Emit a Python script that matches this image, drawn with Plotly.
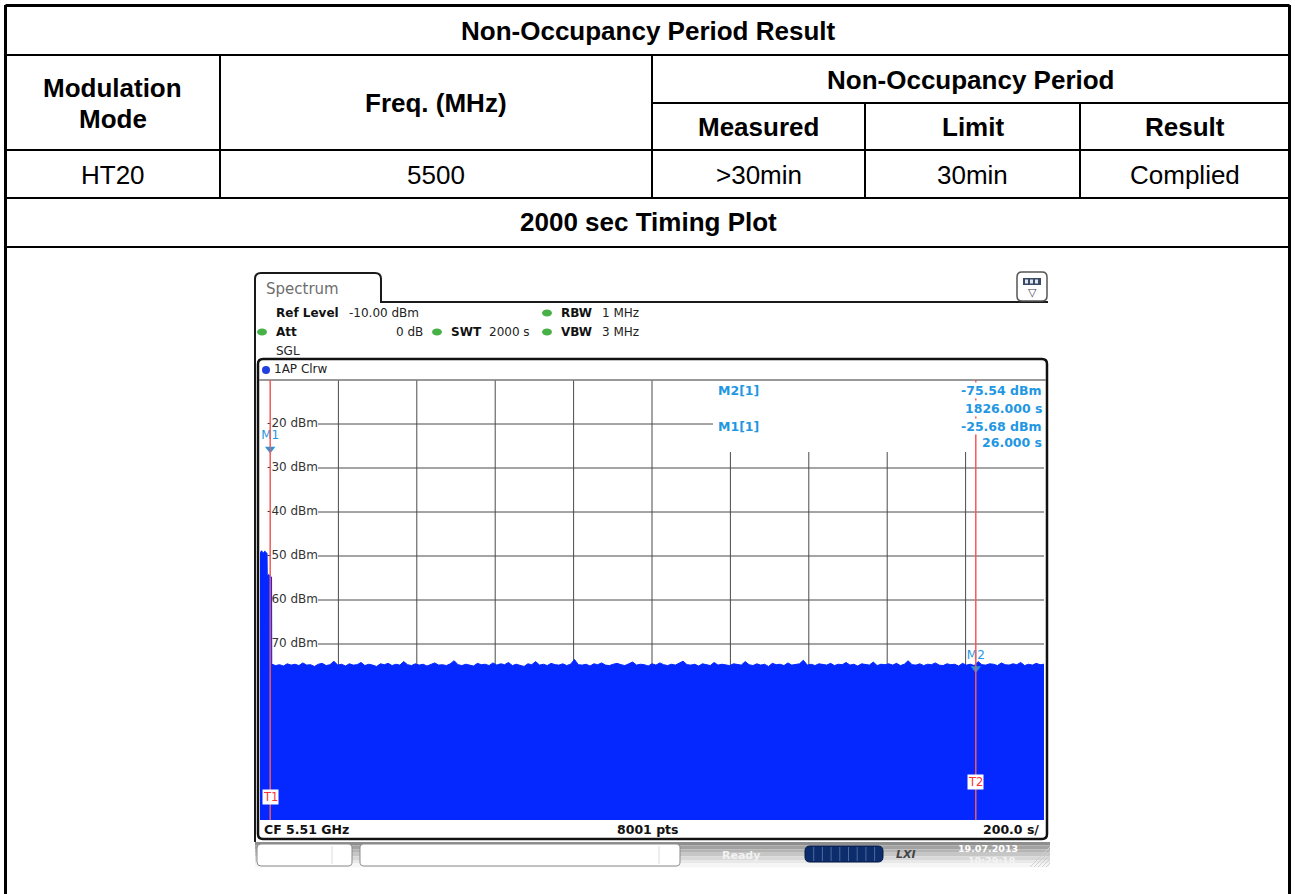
import numpy as np
import plotly.graph_objects as go

W, H = 1295, 894
TAB_FONT = "Liberation Sans, Arial, sans-serif"
RS_FONT = "DejaVu Sans, Verdana, sans-serif"

# ---------------- table content ----------------
table_title = "Non-Occupancy Period Result"
col_headers = ["Modulation", "Mode"]
freq_header = "Freq. (MHz)"
group_header = "Non-Occupancy Period"
sub_headers = ["Measured", "Limit", "Result"]
row_values = ["HT20", "5500", ">30min", "30min", "Complied"]
plot_caption = "2000 sec Timing Plot"

# ---------------- spectrum analyser content ----------------
sweep_time_s = 2000
time_ticks = [200, 400, 600, 800, 1000, 1200, 1400, 1600, 1800]
level_grid = [-20, -30, -40, -50, -60, -70, -80, -90, -100]
level_labels = [-20, -30, -40, -50, -60, -70]
ref_level = -10
bottom_level = -110

burst_time = [0, 4, 8, 12, 16, 18, 18.5, 22, 26, 29.5]
burst_dbm = [-49.3, -48.8, -49.4, -48.9, -49.2, -49.5, -54.6, -54.2, -54.5, -54.8]

noise_dbm = [
    -74.6, -74.9, -74.7, -75.0, -74.5, -74.8, -74.6, -74.9, -74.3, -74.8,
    -74.7, -75.1, -74.6, -74.4, -74.9, -74.7, -73.9, -74.8, -74.6, -75.0,
    -74.5, -74.8, -74.7, -74.2, -74.9, -74.6, -74.8, -75.1, -74.5, -74.7,
    -74.4, -74.9, -74.6, -74.8, -74.0, -74.7, -74.9, -74.5, -74.8, -74.6,
    -75.0, -74.6, -74.3, -74.8, -74.7, -74.9, -74.5, -73.8, -74.7, -74.9,
    -74.6, -74.8, -75.0, -74.4, -74.7, -74.6, -74.9, -74.3, -74.8, -74.5,
    -74.7, -74.2, -74.9, -74.6, -74.8, -75.1, -74.5, -74.7, -74.0, -74.8,
    -74.6, -74.9, -74.4, -74.7, -74.8, -74.5, -74.9, -74.6, -73.5, -74.7,
    -74.8, -74.6, -75.0, -74.5, -74.7, -74.3, -74.8, -74.9, -74.6, -74.4,
    -74.7, -74.9, -74.5, -74.1, -74.8, -74.6, -74.7, -75.0, -74.5, -74.8,
    -74.3, -74.7, -74.9, -74.6, -74.8, -74.4, -73.9, -74.7, -74.8, -74.6,
    -75.0, -74.5, -74.7, -74.9, -74.2, -74.8, -74.6, -74.7, -74.9, -74.5,
    -74.6, -74.8, -74.0, -74.7, -74.9, -74.5, -74.8, -74.6, -75.1, -74.4,
    -74.7, -74.6, -74.9, -74.3, -74.8, -74.7, -74.5, -73.7, -74.8, -74.6,
    -74.9, -74.5, -74.7, -74.8, -74.4, -74.9, -74.6, -74.7, -74.2, -74.8,
    -74.6, -75.0, -74.5, -74.7, -74.8, -74.1, -74.9, -74.6, -74.7, -74.5,
    -74.8, -74.4, -74.9, -74.6, -73.8, -74.7, -74.8, -74.5, -74.9, -74.6,
    -74.7, -74.3, -74.8, -74.9, -74.5, -74.7, -74.6, -75.0, -74.4, -74.8,
    -74.6, -74.9, -74.0, -74.7, -74.8, -74.5, -74.6, -74.9, -74.3, -74.7,
    -74.8, -74.5, -74.7, -74.2, -74.9, -74.6, -74.8, -74.4, -74.7, -74.6,
]
noise_start_s = 30

marker_names = ["M1", "M2"]
marker_time = [26.0, 1826.0]
marker_dbm = [-25.68, -75.54]
marker_info = [("M2[1]", "-75.54 dBm", "1826.000 s"), ("M1[1]", "-25.68 dBm", "26.000 s")]
line_names = ["T1", "T2"]
line_time = [26.0, 1826.0]

header_left = [("<b>Ref Level</b>", "-10.00 dBm"), ("<b>Att</b>", "0 dB")]
header_mid = [("<b>SWT</b>", "2000 s")]
header_right = [("<b>RBW</b>", "1 MHz"), ("<b>VBW</b>", "3 MHz")]
footer = ["CF 5.51 GHz", "8001 pts", "200.0 s/"]

# ---------------- helpers ----------------
def X(p):
    return p / W

def Y(p):
    return 1 - p / H

# pixel -> data helpers for overlays inside the diagram
GX0, GX1, GY0, GY1 = 260, 1044, 380, 820
def TX(p):
    return (p - GX0) / (GX1 - GX0) * sweep_time_s

def LY(p):
    return ref_level - (p - GY0) / (GY1 - GY0) * (ref_level - bottom_level)

shapes, anns = [], []

def line(x0, y0, x1, y1, w=2, c="black", layer="above", dash=None):
    shapes.append(dict(type="line", xref="paper", yref="paper",
                       x0=X(x0), y0=Y(y0), x1=X(x1), y1=Y(y1),
                       line=dict(color=c, width=w, dash=dash), layer=layer))

def rect(x0, y0, x1, y1, fill, lc=None, w=0, layer="below"):
    shapes.append(dict(type="rect", xref="paper", yref="paper",
                       x0=X(x0), y0=Y(y0), x1=X(x1), y1=Y(y1),
                       fillcolor=fill, line=dict(color=lc or fill, width=w), layer=layer))

def P(x, y):
    return f"{X(x):.6f},{Y(y):.6f}"

def rrect(x0, y0, x1, y1, r, lc="#111", w=2, fill=None, layer="above"):
    d = (f"M {P(x0 + r, y0)} L {P(x1 - r, y0)} Q {P(x1, y0)} {P(x1, y0 + r)} "
         f"L {P(x1, y1 - r)} Q {P(x1, y1)} {P(x1 - r, y1)} L {P(x0 + r, y1)} "
         f"Q {P(x0, y1)} {P(x0, y1 - r)} L {P(x0, y0 + r)} Q {P(x0, y0)} {P(x0 + r, y0)} Z")
    shapes.append(dict(type="path", xref="paper", yref="paper", path=d,
                       line=dict(color=lc, width=w), fillcolor=fill or "rgba(0,0,0,0)",
                       layer=layer))

def ann(x, y, text, size, color="black", xa="center", family=TAB_FONT, bg=None, pad=0):
    a = dict(x=X(x), y=Y(y), xref="paper", yref="paper", text=text, showarrow=False,
             xanchor=xa, yanchor="middle", borderpad=pad,
             font=dict(family=family, size=size, color=color))
    if bg:
        a["bgcolor"] = bg
    anns.append(a)

# ---------------- table ----------------
col_x = [5, 220, 652, 865, 1080, 1290]
row_y = [5, 55, 103, 150, 198, 247]
line(5.5, 5.5, 1289.5, 5.5, 3)
line(5.5, 5, 5.5, 900, 3)
line(1289.5, 5, 1289.5, 900, 3)
for yy in [row_y[1], row_y[3], row_y[4], row_y[5]]:
    line(5, yy, 1290, yy, 2)
line(col_x[2], row_y[2], 1290, row_y[2], 2)
line(col_x[1], row_y[1], col_x[1], row_y[4], 2)
line(col_x[2], row_y[1], col_x[2], row_y[4], 2)
line(col_x[3], row_y[2], col_x[3], row_y[4], 2)
line(col_x[4], row_y[2], col_x[4], row_y[4], 2)

centers = [(col_x[i] + col_x[i + 1]) / 2 for i in range(5)]
TS = 26
ann(648, 31, f"<b>{table_title}</b>", TS)
ann(centers[0], 88, f"<b>{col_headers[0]}</b>", TS)
ann(centers[0], 119, f"<b>{col_headers[1]}</b>", TS)
ann(centers[1], 103, f"<b>{freq_header}</b>", TS)
ann((col_x[2] + col_x[5]) / 2, 80, f"<b>{group_header}</b>", TS)
for i, s in enumerate(sub_headers):
    ann(centers[2 + i], 127, f"<b>{s}</b>", TS)
for i, v in enumerate(row_values):
    ann(centers[i], 175, v, TS)
ann(648, 222, f"<b>{plot_caption}</b>", TS)

# ---------------- analyser frame ----------------
DARK = "#1a1a1a"
d = (f"M {P(255, 842)} L {P(255, 279)} Q {P(255, 273)} {P(261, 273)} L {P(375, 273)} "
     f"Q {P(381, 273)} {P(381, 279)} L {P(381, 302)} L {P(1048, 302)}")
shapes.append(dict(type="path", xref="paper", yref="paper", path=d,
                   line=dict(color=DARK, width=2), layer="above"))
ann(265, 289, "Spectrum", 15, "#6e6e6e", "left", RS_FONT)
rrect(1017, 272, 1047, 301, 5, lc="#555", w=1.5, fill="white")
rect(1023, 278, 1041, 285, "#3a4a66", layer="above")
for k in range(3):
    rect(1025 + k * 5, 279.5, 1028 + k * 5, 283.5, "#e0e6f0", layer="above")
ann(1032, 292, "▽", 11, "#445", "center", RS_FONT)

GREEN = "#47b047"
def dot(cx, cy, c=GREEN, rx=5, ry=3.5):
    shapes.append(dict(type="circle", xref="paper", yref="paper",
                       x0=X(cx - rx), x1=X(cx + rx), y0=Y(cy - ry), y1=Y(cy + ry),
                       fillcolor=c, line=dict(color=c, width=0), layer="above"))
HS = 12
ann(275, 313, header_left[0][0], HS, "#111", "left", RS_FONT)
ann(348, 313, header_left[0][1], HS, "#222", "left", RS_FONT)
dot(547, 313)
ann(560, 313, header_right[0][0], HS, "#111", "left", RS_FONT)
ann(601, 313, header_right[0][1], HS, "#222", "left", RS_FONT)
dot(262, 332)
ann(275, 332, header_left[1][0], HS, "#111", "left", RS_FONT)
ann(424, 332, header_left[1][1], HS, "#222", "right", RS_FONT)
dot(437, 332)
ann(450, 332, header_mid[0][0], HS, "#111", "left", RS_FONT)
ann(488, 332, header_mid[0][1], HS, "#222", "left", RS_FONT)
dot(547, 332)
ann(560, 332, header_right[1][0], HS, "#111", "left", RS_FONT)
ann(601, 332, header_right[1][1], HS, "#222", "left", RS_FONT)
ann(275, 351, "SGL", HS, "#222", "left", RS_FONT)

rrect(258, 359, 1047, 839, 5, lc="#111", w=2.5)
line(259, 380, 1046, 380, 1.5, "#777")
dot(266, 370, "#1f3fe0", 4, 4)
ann(273, 369, "1AP Clrw", HS, "#222", "left", RS_FONT)

# grid (subplot shapes, below traces)
GRID = "#4a4a4a"
for t in time_ticks:
    shapes.append(dict(type="line", xref="x", yref="y", x0=t, x1=t, y0=bottom_level, y1=ref_level,
                       line=dict(color=GRID, width=1), layer="below"))
for lv in level_grid:
    shapes.append(dict(type="line", xref="x", yref="y", x0=0, x1=sweep_time_s, y0=lv, y1=lv,
                       line=dict(color=GRID, width=1), layer="below"))
# white backing behind level labels (drawn after grid, same layer)
for lv in level_labels:
    shapes.append(dict(type="rect", xref="x", yref="y", x0=0, x1=TX(318),
                       y0=lv - 1.6, y1=lv + 1.6, fillcolor="white",
                       line=dict(width=0), layer="below"))
# marker info area hides the grid
shapes.append(dict(type="rect", xref="x", yref="y", x0=TX(713), x1=sweep_time_s,
                   y0=LY(452), y1=ref_level, fillcolor="white",
                   line=dict(width=0), layer="below"))

MB = "#1f97e2"
for i, (nm, lv, tm) in enumerate(marker_info):
    yy = 391 + i * 35
    ann(717, yy, f"<b>{nm}</b>", 12.5, MB, "left", RS_FONT, bg="white")
    ann(1043, yy, f"<b>{lv}</b>", 12.5, MB, "right", RS_FONT, bg="white")
    ann(1043, yy + 17, f"<b>{tm}</b>", 12.5, MB, "right", RS_FONT, bg="white")

RED = "#f25a5a"
for t in line_time:
    shapes.append(dict(type="line", xref="x", yref="y", x0=t, x1=t, y0=bottom_level, y1=ref_level,
                       line=dict(color=RED, width=1.5), layer="above"))
for nm, t, yy in zip(line_names, line_time, [797, 782]):
    anns.append(dict(x=t, y=Y(yy), xref="x", yref="paper", text=nm, showarrow=False,
                     xanchor="center", yanchor="middle", bgcolor="white", borderpad=0,
                     font=dict(family=RS_FONT, size=11.5, color="#ff3030")))

FS = 12.5
ann(263, 829, f"<b>{footer[0]}</b>", FS, "#111", "left", RS_FONT)
ann(648, 829, f"<b>{footer[1]}</b>", FS, "#111", "center", RS_FONT)
ann(1040, 829, f"<b>{footer[2]}</b>", FS, "#111", "right", RS_FONT)

bands = ["#8e8e8e", "#a2a2a2", "#b4b4b4", "#c6c6c6", "#d8d8d8", "#e9e9e9", "#f6f6f6"]
for i, c in enumerate(bands):
    rect(255, 842 + i * 3.6, 1050, 845.6 + i * 3.6, c)
rrect(257, 844, 352, 866, 4, lc="#8a8a8a", w=1, fill="white", layer="below")
line(332, 846, 332, 864, 1, "#dddddd", "below")
rrect(360, 844, 680, 866, 4, lc="#8a8a8a", w=1, fill="white", layer="below")
line(659, 846, 659, 864, 1, "#dddddd", "below")
ann(741, 855, "<b>Ready</b>", 11, "#f2f2f2", "center", RS_FONT)
rrect(805, 846, 883, 862, 5, lc="#061a44", w=1, fill="#0c2c6c", layer="below")
for k in range(1, 9):
    line(805 + k * 8.7, 847, 805 + k * 8.7, 861, 1, "#4e6a9c", "below")
ann(906, 854, "<b><i>LXI</i></b>", 11, "#444", "center", RS_FONT)
ann(988, 848, "<b>19.07.2013</b>", 9.5, "#ffffff", "center", RS_FONT)
ann(992, 860, "<b>10:29:18</b>", 9.5, "#f4f4f4", "center", RS_FONT)
for k in range(5):
    line(1030 + k * 4, 867, 1050, 847 + k * 4, 1, "#cfcfcf", "below")

# ---------------- traces ----------------
noise_time = np.linspace(noise_start_s, sweep_time_s, len(noise_dbm))
trace_t = list(burst_time) + list(noise_time)
trace_y = list(burst_dbm) + list(noise_dbm)
BLUE = "#0428ff"

fig = go.Figure()
fig.add_trace(go.Scatter(
    x=[TX(318)] * len(level_labels), y=level_labels,
    text=[f"{v} dBm" for v in level_labels], mode="text", textposition="middle left",
    textfont=dict(family=RS_FONT, size=12, color="#333"), cliponaxis=False,
    hoverinfo="skip", showlegend=False))
fig.add_trace(go.Scatter(x=[0, sweep_time_s], y=[bottom_level, bottom_level], mode="lines",
                         line=dict(width=0, color=BLUE), hoverinfo="skip", showlegend=False))
fig.add_trace(go.Scatter(x=trace_t, y=trace_y, mode="lines", fill="tonexty",
                         fillcolor=BLUE, line=dict(color=BLUE, width=1),
                         hoverinfo="skip", showlegend=False))
fig.add_trace(go.Scatter(x=marker_time, y=marker_dbm, mode="markers+text",
                         marker=dict(symbol="triangle-down", size=9, color=MB),
                         text=marker_names, textposition="top center",
                         textfont=dict(family=RS_FONT, size=12, color=MB),
                         cliponaxis=False, hoverinfo="skip", showlegend=False))

fig.update_layout(
    width=W, height=H, margin=dict(l=0, r=0, t=0, b=0),
    paper_bgcolor="white", plot_bgcolor="white", showlegend=False,
    xaxis=dict(domain=[X(GX0), X(GX1)], range=[0, sweep_time_s], showgrid=False,
               zeroline=False, showticklabels=False, showline=False, ticks="", fixedrange=True),
    yaxis=dict(domain=[Y(GY1), Y(GY0)], range=[bottom_level, ref_level], showgrid=False,
               zeroline=False, showticklabels=False, showline=False, ticks="", fixedrange=True),
    shapes=shapes, annotations=anns,
)

fig.write_html("out.html", config={"displayModeBar": False, "staticPlot": True},
               post_script="document.body.style.margin='0';document.body.style.overflow='hidden';")
